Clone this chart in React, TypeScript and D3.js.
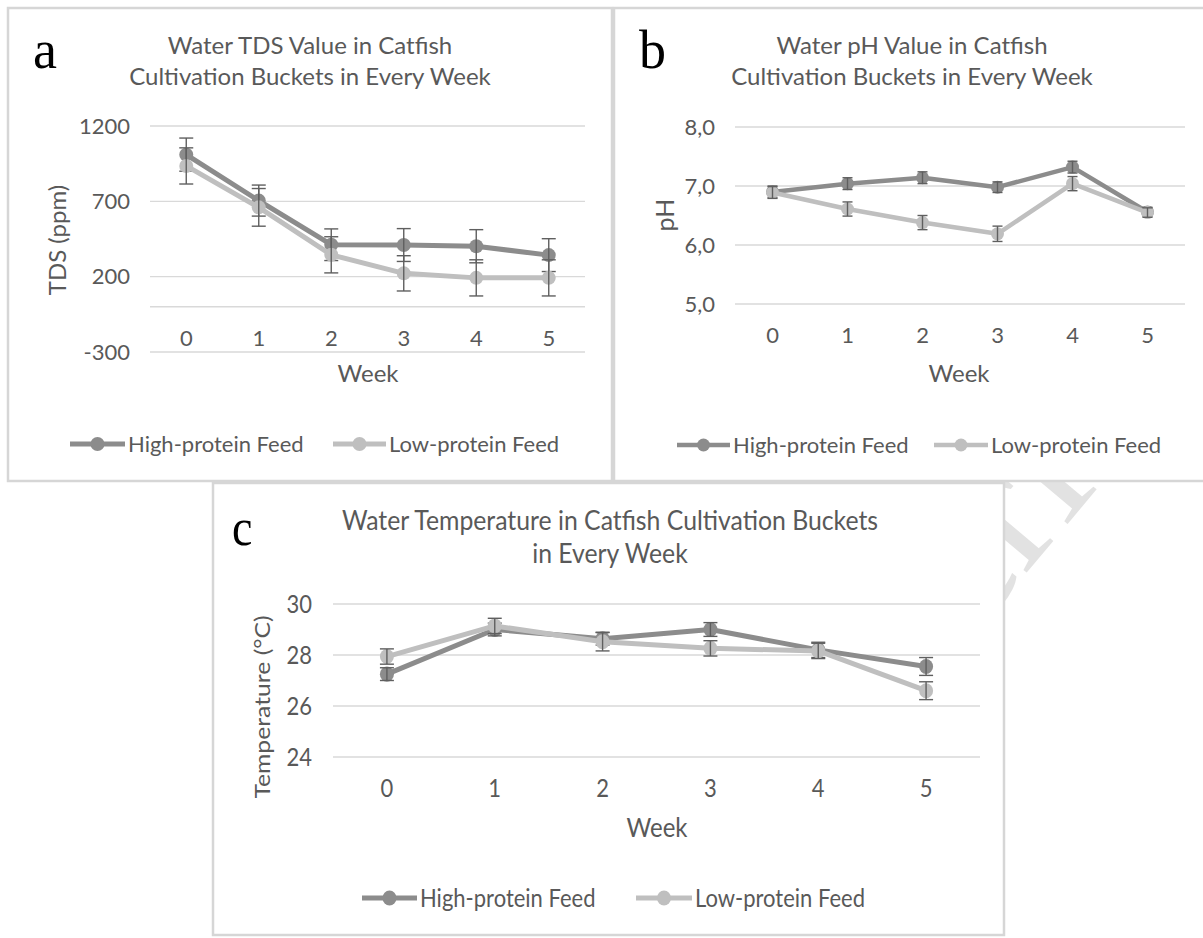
import React from 'react';
import * as d3 from 'd3';

const weeks = ['0', '1', '2', '3', '4', '5'];
const seriesNames = ['High-protein Feed', 'Low-protein Feed'];

const tdsHigh = [1010, 705, 412, 410, 402, 343];
const tdsLow = [935, 660, 345, 222, 192, 192];
const tdsHighErr = [110, 103, 105, 109, 110, 109];
const tdsLowErr = [120, 125, 120, 117, 120, 120];
const tdsTicks = [-300, 200, 700, 1200];

const phHigh = [6.9, 7.04, 7.14, 6.98, 7.32, 6.56];
const phLow = [6.89, 6.61, 6.38, 6.19, 7.04, 6.55];
const phHighErr = [0.1, 0.1, 0.1, 0.09, 0.1, 0.08];
const phLowErr = [0.1, 0.12, 0.12, 0.13, 0.12, 0.08];
const phTicks = [5, 6, 7, 8];

const tempHigh = [27.25, 29.0, 28.64, 29.0, 28.2, 27.55];
const tempLow = [27.94, 29.14, 28.52, 28.26, 28.16, 26.6];
const tempHighErr = [0.25, 0.25, 0.25, 0.27, 0.3, 0.35];
const tempLowErr = [0.3, 0.3, 0.36, 0.3, 0.3, 0.35];
const tempTicks = [24, 26, 28, 30];

const FONT = 'Lato, "Open Sans", sans-serif';
const SERIF = '"Liberation Serif", "Times New Roman", serif';
const TEXT = '#595959';
const GRID = '#d9d9d9';
const BORDER = '#d6d6d6';
const HIGH = '#8c8c8c';
const LOW = '#bfbfbf';
const ERR = '#5f5f5f';

type Cfg = {
  box: [number, number, number, number];
  letter: string;
  letterPos: [number, number];
  letterSize: number;
  title: string[];
  titleX: number;
  titleY: number[];
  titleSize: number;
  titleSy: number;
  yDomain: [number, number];
  yRange: [number, number];
  ticks: number[];
  fmt: (v: number) => string;
  tickRight: number;
  xRange: [number, number];
  xLabelY: number;
  zero?: number;
  weekPos: [number, number];
  yTitle: string;
  yTitlePos: [number, number];
  yTitleSize: number;
  legendY: number;
  legend: { x1: number; x2: number; tx: number }[];
  high: number[];
  low: number[];
  highErr: number[];
  lowErr: number[];
  lw: number;
  r: number;
  cap: number;
  sy: number;
};

function T({
  x,
  y,
  sy,
  rot,
  children,
  ...rest
}: {
  x: number;
  y: number;
  sy: number;
  rot?: number;
  children: React.ReactNode;
  [k: string]: any;
}) {
  const tr = `translate(${x},${y}) scale(1,${sy})${rot ? ` rotate(${rot})` : ''}`;
  return (
    <text transform={tr} {...rest}>
      {children}
    </text>
  );
}

function Panel({ c }: { c: Cfg }) {
  const [bx, by, bw, bh] = c.box;
  const x = d3.scalePoint<string>().domain(weeks).range(c.xRange).padding(0.5);
  const y = d3.scaleLinear().domain(c.yDomain).range(c.yRange);
  const line = d3
    .line<number>()
    .x((_, i) => x(weeks[i]) as number)
    .y((d) => y(d));
  const series = [
    { vals: c.high, err: c.highErr, color: HIGH },
    { vals: c.low, err: c.lowErr, color: LOW },
  ];
  const sy = c.sy;
  return (
    <g>
      <rect x={bx} y={by} width={bw} height={bh} fill="#fff" stroke={BORDER} strokeWidth={2.5} />
      <T x={c.letterPos[0]} y={c.letterPos[1]} sy={sy} fontFamily={SERIF} fontSize={c.letterSize} fill="#000">
        {c.letter}
      </T>
      {c.title.map((t, i) => (
        <T key={i} x={c.titleX} y={c.titleY[i]} sy={c.titleSy} textAnchor="middle" fontFamily={FONT} fontSize={c.titleSize} fill={TEXT}>
          {t}
        </T>
      ))}
      {c.ticks.map((t) => (
        <g key={t}>
          <line x1={c.xRange[0]} x2={c.xRange[1]} y1={y(t)} y2={y(t)} stroke={GRID} strokeWidth={1.3} />
          <T x={c.tickRight} y={y(t)} sy={sy} dy="0.35em" textAnchor="end" fontFamily={FONT} fontSize={22} fill={TEXT}>
            {c.fmt(t)}
          </T>
        </g>
      ))}
      {c.zero !== undefined && (
        <line x1={c.xRange[0]} x2={c.xRange[1]} y1={y(c.zero)} y2={y(c.zero)} stroke={GRID} strokeWidth={1.6} />
      )}
      {weeks.map((w) => (
        <T key={w} x={x(w) as number} y={c.xLabelY} sy={sy} dy="0.35em" textAnchor="middle" fontFamily={FONT} fontSize={22} fill={TEXT}>
          {w}
        </T>
      ))}
      <T x={c.weekPos[0]} y={c.weekPos[1]} sy={sy} dy="0.35em" textAnchor="middle" fontFamily={FONT} fontSize={24} fill={TEXT}>
        Week
      </T>
      <T
        x={c.yTitlePos[0]}
        y={c.yTitlePos[1]}
        sy={sy}
        rot={-90}
        dy="0.35em"
        textAnchor="middle"
        fontFamily={FONT}
        fontSize={c.yTitleSize}
        fill={TEXT}
      >
        {c.yTitle}
      </T>
      {series.map((s, si) => (
        <g key={si}>
          <path d={line(s.vals) || ''} fill="none" stroke={s.color} strokeWidth={c.lw} strokeLinejoin="round" />
          {s.vals.map((v, i) => {
            const cx = x(weeks[i]) as number;
            const t = y(v + s.err[i]);
            const b = y(v - s.err[i]);
            return (
              <g key={i}>
                <ellipse cx={cx} cy={y(v)} rx={c.r} ry={c.r * Math.sqrt(sy)} fill={s.color} />
                <line x1={cx} x2={cx} y1={t} y2={b} stroke={ERR} strokeWidth={1.4} />
                <line x1={cx - c.cap} x2={cx + c.cap} y1={t} y2={t} stroke={ERR} strokeWidth={1.4} />
                <line x1={cx - c.cap} x2={cx + c.cap} y1={b} y2={b} stroke={ERR} strokeWidth={1.4} />
              </g>
            );
          })}
        </g>
      ))}
      {c.legend.map((l, i) => (
        <g key={i}>
          <line x1={l.x1} x2={l.x2} y1={c.legendY} y2={c.legendY} stroke={i === 0 ? HIGH : LOW} strokeWidth={c.lw} />
          <ellipse cx={(l.x1 + l.x2) / 2} cy={c.legendY} rx={c.r} ry={c.r * Math.sqrt(sy)} fill={i === 0 ? HIGH : LOW} />
          <T x={l.tx} y={c.legendY} sy={sy} dy="0.35em" fontFamily={FONT} fontSize={22} fill={TEXT}>
            {seriesNames[i]}
          </T>
        </g>
      ))}
    </g>
  );
}

const comma = (v: number) => v.toFixed(1).replace('.', ',');

const panels: Cfg[] = [
  {
    box: [8, 8, 604, 473],
    letter: 'a',
    letterPos: [33, 68],
    letterSize: 54,
    title: ['Water TDS Value in Catfish', 'Cultivation Buckets in Every Week'],
    titleX: 310,
    titleY: [54, 85],
    titleSize: 24,
    titleSy: 1,
    yDomain: [-300, 1200],
    yRange: [352, 126],
    ticks: tdsTicks,
    fmt: (v) => String(v),
    tickRight: 130,
    xRange: [150, 585],
    xLabelY: 338,
    zero: 0,
    weekPos: [368, 374],
    yTitle: 'TDS (ppm)',
    yTitlePos: [58, 240],
    yTitleSize: 24,
    legendY: 444,
    legend: [
      { x1: 70, x2: 125, tx: 128 },
      { x1: 333, x2: 386, tx: 389 },
    ],
    high: tdsHigh,
    low: tdsLow,
    highErr: tdsHighErr,
    lowErr: tdsLowErr,
    lw: 5,
    r: 7,
    cap: 7,
    sy: 1,
  },
  {
    box: [614, 8, 610, 473],
    letter: 'b',
    letterPos: [639, 68],
    letterSize: 54,
    title: ['Water pH Value in Catfish', 'Cultivation Buckets in Every Week'],
    titleX: 912,
    titleY: [54, 85],
    titleSize: 24,
    titleSy: 1,
    yDomain: [5, 8],
    yRange: [304, 127],
    ticks: phTicks,
    fmt: comma,
    tickRight: 715,
    xRange: [735, 1185],
    xLabelY: 335,
    weekPos: [959, 374],
    yTitle: 'pH',
    yTitlePos: [665, 215],
    yTitleSize: 25,
    legendY: 445,
    legend: [
      { x1: 677, x2: 730, tx: 733 },
      { x1: 934, x2: 988, tx: 991 },
    ],
    high: phHigh,
    low: phLow,
    highErr: phHighErr,
    lowErr: phLowErr,
    lw: 4.5,
    r: 6.5,
    cap: 5,
    sy: 1,
  },
  {
    box: [213, 483, 791, 452],
    letter: 'c',
    letterPos: [232, 545],
    letterSize: 46,
    title: ['Water Temperature in Catfish Cultivation Buckets', 'in Every Week'],
    titleX: 610,
    titleY: [530, 563],
    titleSize: 24.8,
    titleSy: 1.05,
    yDomain: [24, 30],
    yRange: [757, 604],
    ticks: tempTicks,
    fmt: (v) => String(v),
    tickRight: 312,
    xRange: [333, 980],
    xLabelY: 788,
    weekPos: [657, 827],
    yTitle: 'Temperature (°C)',
    yTitlePos: [262, 707],
    yTitleSize: 21.5,
    legendY: 898,
    legend: [
      { x1: 362, x2: 417, tx: 420 },
      { x1: 636, x2: 692, tx: 695 },
    ],
    high: tempHigh,
    low: tempLow,
    highErr: tempHighErr,
    lowErr: tempLowErr,
    lw: 5,
    r: 7,
    cap: 7,
    sy: 1.15,
  },
];

export default function App() {
  return (
    <svg
      width={1203}
      height={938}
      viewBox="0 0 1203 938"
      style={{ position: 'absolute', left: 0, top: 0, background: '#fff' }}
    >
      <rect x={0} y={0} width={1203} height={938} fill="#fff" />
      <text transform="translate(970,640) rotate(-50)" fontFamily={SERIF} fontSize={190} fill="#e2e2e2">
        cri
      </text>
      {panels.map((p, i) => (
        <Panel key={i} c={p} />
      ))}
    </svg>
  );
}
